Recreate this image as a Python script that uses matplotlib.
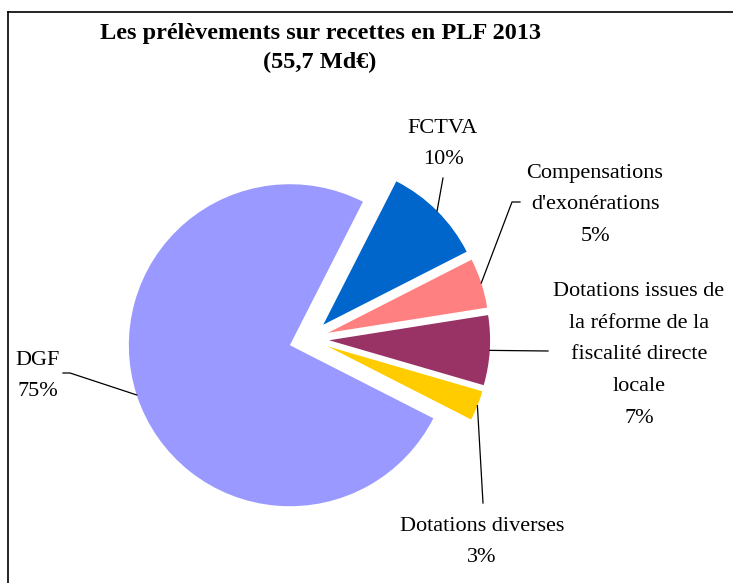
import numpy as np
import matplotlib
matplotlib.use("Agg")
import matplotlib.pyplot as plt
from matplotlib.lines import Line2D

plt.rcParams['font.family'] = ['Liberation Serif', 'DejaVu Serif']

# données (en % du total, 55,7 Md€)
labels = ["FCTVA",
          "Compensations\nd'exonérations",
          "Dotations issues de\nla réforme de la\nfiscalité directe\nlocale",
          "Dotations diverses",
          "DGF"]
values = [10, 5, 7, 3, 75]
colors = ['#0066CC', '#FF8080', '#993366', '#FFCC00', '#9999FF']

W, H = 733, 583
CX, CY, R = 309, 339, 161  # centre et rayon du camembert en pixels


def to_data(px, py):
    return (px - CX) / R, (CY - py) / R


# position des étiquettes (pixels) et coudes des lignes de rappel
label_pos = [(443, 144), (595, 205), (639, 355), (482, 542), (38, 376)]
leader_pts = [
    [(443, 178)],
    [(520, 202), (512, 202)],
    [(548, 351)],
    [(483, 503)],
    [(63, 373), (70, 373)],
]

fig = plt.figure(figsize=(W / 100, H / 100), dpi=100)
ax = fig.add_axes([0, 0, 1, 1])

wedges, _ = ax.pie(values, colors=colors, startangle=63, counterclock=False,
                   explode=[0.125] * len(values), radius=1,
                   wedgeprops=dict(linewidth=0))

ax.set_xlim(-CX / R, (W - CX) / R)
ax.set_ylim(-(H - CY) / R, CY / R)
ax.set_aspect('auto')
ax.axis('off')

for w, lab, val, pos, pts in zip(wedges, labels, values, label_pos, leader_pts):
    # point d'accroche sur l'arc, au milieu du secteur
    mid = np.deg2rad((w.theta1 + w.theta2) / 2)
    ax_x = w.center[0] + w.r * np.cos(mid)
    ax_y = w.center[1] + w.r * np.sin(mid)
    xs = [ax_x] + [to_data(*p)[0] for p in reversed(pts)]
    ys = [ax_y] + [to_data(*p)[1] for p in reversed(pts)]
    ax.plot(xs, ys, color='black', lw=0.9)
    tx, ty = to_data(*pos)
    ax.text(tx, ty, f"{lab}\n{val}%", ha='center', va='center',
            multialignment='center', fontsize=16, linespacing=1.9,
            color='black')

fig.text(320 / W, 1 - 48 / H, "Les prélèvements sur recettes en PLF 2013\n(55,7 Md€)",
         ha='center', va='center', multialignment='center', fontsize=17.5,
         fontweight='bold', linespacing=1.5)

# cadre
fig.add_artist(Line2D([8 / W, 8 / W], [0, 1 - 12 / H], color='black', lw=1.2,
                      transform=fig.transFigure))
fig.add_artist(Line2D([8 / W, 1], [1 - 12 / H, 1 - 12 / H], color='black', lw=1.2,
                      transform=fig.transFigure))

fig.savefig("out.png", dpi=100)
